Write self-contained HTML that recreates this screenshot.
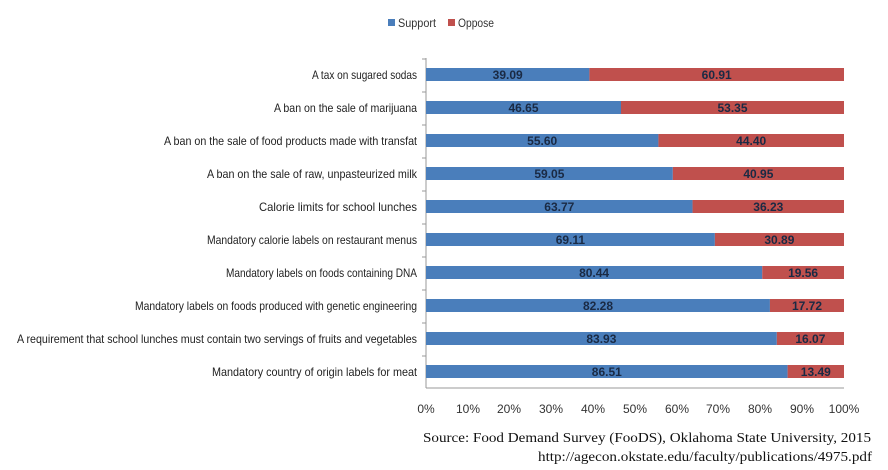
<!DOCTYPE html>
<html><head><meta charset="utf-8"><style>
body{margin:0;background:#fff}
svg{display:block}
text{font-family:"Liberation Sans Narrow","Liberation Sans",sans-serif}
</style></head><body>
<svg width="888" height="470" xmlns="http://www.w3.org/2000/svg">
<rect width="888" height="470" fill="#fff"/>
<rect x="388" y="19" width="7" height="7" fill="#4a7ebb"/>
<text x="398" y="27" font-size="12" fill="#333" textLength="38" lengthAdjust="spacingAndGlyphs">Support</text>
<rect x="448" y="19" width="7" height="7" fill="#c0504d"/>
<text x="458" y="27" font-size="12" fill="#333" textLength="36" lengthAdjust="spacingAndGlyphs">Oppose</text>
<line x1="426" y1="58" x2="426" y2="388" stroke="#999"/>
<line x1="426" y1="388" x2="844" y2="388" stroke="#999"/>
<g fill="#4a7ebb">
<rect x="426" y="68" width="163.4" height="13"/>
<rect x="426" y="101" width="195" height="13"/>
<rect x="426" y="134" width="232.41" height="13"/>
<rect x="426" y="167" width="246.83" height="13"/>
<rect x="426" y="200" width="266.56" height="13"/>
<rect x="426" y="233" width="288.88" height="13"/>
<rect x="426" y="266" width="336.24" height="13"/>
<rect x="426" y="299" width="343.93" height="13"/>
<rect x="426" y="332" width="350.83" height="13"/>
<rect x="426" y="365" width="361.61" height="13"/>
</g>
<g fill="#c0504d">
<rect x="589.4" y="68" width="254.6" height="13"/>
<rect x="621" y="101" width="223" height="13"/>
<rect x="658.41" y="134" width="185.59" height="13"/>
<rect x="672.83" y="167" width="171.17" height="13"/>
<rect x="692.56" y="200" width="151.44" height="13"/>
<rect x="714.88" y="233" width="129.12" height="13"/>
<rect x="762.24" y="266" width="81.76" height="13"/>
<rect x="769.93" y="299" width="74.07" height="13"/>
<rect x="776.83" y="332" width="67.17" height="13"/>
<rect x="787.61" y="365" width="56.39" height="13"/>
</g>
<g font-size="12" font-weight="bold" fill="#1a2a44" text-anchor="middle">
<text x="507.7" y="79">39.09</text><text x="716.7" y="79">60.91</text>
<text x="523.5" y="112">46.65</text><text x="732.5" y="112">53.35</text>
<text x="542.2" y="145">55.60</text><text x="751.2" y="145">44.40</text>
<text x="549.4" y="178">59.05</text><text x="758.4" y="178">40.95</text>
<text x="559.3" y="211">63.77</text><text x="768.3" y="211">36.23</text>
<text x="570.4" y="244">69.11</text><text x="779.4" y="244">30.89</text>
<text x="594.1" y="277">80.44</text><text x="803.1" y="277">19.56</text>
<text x="598" y="310">82.28</text><text x="807" y="310">17.72</text>
<text x="601.4" y="343">83.93</text><text x="810.4" y="343">16.07</text>
<text x="606.8" y="376">86.51</text><text x="815.8" y="376">13.49</text>
</g>
<g font-size="12" fill="#222" text-anchor="end" lengthAdjust="spacingAndGlyphs">
<text x="417" y="79" textLength="105" lengthAdjust="spacingAndGlyphs">A tax on sugared sodas</text>
<text x="417" y="112" textLength="143" lengthAdjust="spacingAndGlyphs">A ban on the sale of marijuana</text>
<text x="417" y="145" textLength="253" lengthAdjust="spacingAndGlyphs">A ban on the sale of food products made with transfat</text>
<text x="417" y="178" textLength="210" lengthAdjust="spacingAndGlyphs">A ban on the sale of raw, unpasteurized milk</text>
<text x="417" y="211" textLength="158" lengthAdjust="spacingAndGlyphs">Calorie limits for school lunches</text>
<text x="417" y="244" textLength="210" lengthAdjust="spacingAndGlyphs">Mandatory calorie labels on restaurant menus</text>
<text x="417" y="277" textLength="191" lengthAdjust="spacingAndGlyphs">Mandatory labels on foods containing DNA</text>
<text x="417" y="310" textLength="282" lengthAdjust="spacingAndGlyphs">Mandatory labels on foods produced with genetic engineering</text>
<text x="417" y="343" textLength="400" lengthAdjust="spacingAndGlyphs">A requirement that school lunches must contain two servings of fruits and vegetables</text>
<text x="417" y="376" textLength="205" lengthAdjust="spacingAndGlyphs">Mandatory country of origin labels for meat</text>
</g>
<g stroke="#999">
<line x1="422" y1="59" x2="426" y2="59"/><line x1="422" y1="92" x2="426" y2="92"/><line x1="422" y1="125" x2="426" y2="125"/><line x1="422" y1="158" x2="426" y2="158"/><line x1="422" y1="191" x2="426" y2="191"/><line x1="422" y1="224" x2="426" y2="224"/><line x1="422" y1="257" x2="426" y2="257"/><line x1="422" y1="290" x2="426" y2="290"/><line x1="422" y1="323" x2="426" y2="323"/><line x1="422" y1="356" x2="426" y2="356"/>
</g>
<g font-size="12" fill="#333" text-anchor="middle">
<text x="426" y="413">0%</text><text x="468" y="413">10%</text><text x="509" y="413">20%</text><text x="551" y="413">30%</text><text x="593" y="413">40%</text><text x="635" y="413">50%</text><text x="677" y="413">60%</text><text x="718" y="413">70%</text><text x="760" y="413">80%</text><text x="802" y="413">90%</text><text x="844" y="413">100%</text>
</g>
<text x="423" y="442" font-size="14" fill="#111" textLength="448" lengthAdjust="spacingAndGlyphs" style="font-family:'Liberation Serif',serif">Source: Food Demand Survey (FooDS), Oklahoma State University, 2015</text>
<text x="538" y="461" font-size="14" fill="#111" textLength="334" lengthAdjust="spacingAndGlyphs" style="font-family:'Liberation Serif',serif">http://agecon.okstate.edu/faculty/publications/4975.pdf</text>
</svg>
</body></html>
